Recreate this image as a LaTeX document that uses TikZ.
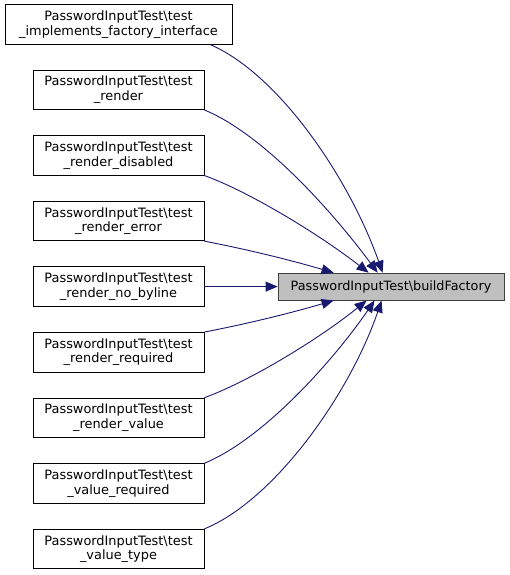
\documentclass[tikz,border=0pt]{standalone}
\usepackage{fontspec}
\setmainfont{DejaVu Sans}
\usetikzlibrary{arrows.meta,calc}
\definecolor{edgeblue}{HTML}{191970}
\definecolor{mainfill}{HTML}{BFBFBF}
\definecolor{mainborder}{HTML}{404040}
\begin{document}
\begin{tikzpicture}[x=1pt,y=-1pt,
  box/.style={draw=black, fill=white, line width=0.8pt, align=center, inner sep=0pt,
    minimum height=39.5, minimum width=171, font=\fontsize{12.9}{14.5}\selectfont},
  mainbox/.style={draw=mainborder, fill=mainfill, line width=0.8pt, inner sep=0pt,
    minimum height=27, minimum width=226, font=\fontsize{12.8}{14.5}\selectfont},
  edge/.style={draw=edgeblue, line width=0.9pt, -{Triangle[length=12pt,width=10pt]}, fill=none}]
\useasboundingbox (0,0) rectangle (509,575);
\node[box, minimum width=227] (t1) at (118.5,24.5) {PasswordInputTest\textbackslash test\\\_implements\_factory\_interface};
\node[box] (t2) at (118.5,89.8) {PasswordInputTest\textbackslash test\\\_render};
\node[box] (t3) at (118.5,155.4) {PasswordInputTest\textbackslash test\\\_render\_disabled};
\node[box] (t4) at (118.5,221) {PasswordInputTest\textbackslash test\\\_render\_error};
\node[box] (t5) at (118.5,286.6) {PasswordInputTest\textbackslash test\\\_render\_no\_byline};
\node[box] (t6) at (118.5,352.2) {PasswordInputTest\textbackslash test\\\_render\_required};
\node[box] (t7) at (118.5,417.8) {PasswordInputTest\textbackslash test\\\_render\_value};
\node[box] (t8) at (118.5,483.4) {PasswordInputTest\textbackslash test\\\_value\_required};
\node[box] (t9) at (118.5,549) {PasswordInputTest\textbackslash test\\\_value\_type};
\node[mainbox] (m) at (391,286.6) {PasswordInputTest\textbackslash buildFactory};
% top group
\draw[edge] ($(t1.south east)+(-22,0)$) .. controls (280,75) and (350,180) .. ($(m.north west)+(105,0)$);
\draw[edge] (t2.south east) .. controls (265,135) and (335,215) .. ($(m.north west)+(100,0)$);
\draw[edge] (t3.south east) .. controls (250,192) and (320,235) .. ($(m.north west)+(91,0)$);
\draw[edge] (t4.south east) .. controls (250,250) and (290,260) .. ($(m.north west)+(56,0)$);
\draw[edge] (t5.east) -- (m.west);
% bottom group
\draw[edge] (t6.north east) .. controls (250,323.2) and (290,313.2) .. ($(m.south west)+(56,0)$);
\draw[edge] (t7.north east) .. controls (250,381.2) and (320,338.2) .. ($(m.south west)+(89,0)$);
\draw[edge] (t8.north east) .. controls (265,438.2) and (335,358.2) .. ($(m.south west)+(97,0)$);
\draw[edge] (t9.north east) .. controls (275,500) and (350,393.2) .. ($(m.south west)+(104,0)$);
\end{tikzpicture}
\end{document}
